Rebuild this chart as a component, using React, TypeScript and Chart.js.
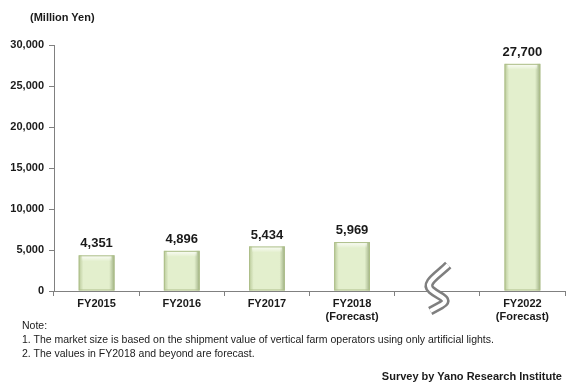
import React, { useEffect, useRef } from "react";
import { Chart, registerables } from "chart.js";

Chart.register(...registerables);

const categories: (string | string[])[] = [
  "FY2015",
  "FY2016",
  "FY2017",
  ["FY2018", "(Forecast)"],
  "",
  ["FY2022", "(Forecast)"],
];
const marketSize: (number | null)[] = [4351, 4896, 5434, 5969, null, 27700];
const yTicks: number[] = [0, 5000, 10000, 15000, 20000, 25000, 30000];
const breakIndex = 4;

const unitLabel = "(Million Yen)";
const noteLines: string[] = [
  "Note:",
  "1. The market size is based on the shipment value of vertical farm operators using only artificial lights.",
  "2. The values in FY2018 and beyond are forecast.",
];
const sourceLabel = "Survey by Yano Research Institute";

const FONT = "'Liberation Sans', Arial, sans-serif";

const fmt = (v: number) => v.toLocaleString("en-US");

const bevelPlugin = {
  id: "bevel",
  afterDatasetsDraw(chart: any) {
    const { ctx } = chart;
    const meta = chart.getDatasetMeta(0);
    ctx.save();
    meta.data.forEach((bar: any, i: number) => {
      if (marketSize[i] == null) return;
      const w = bar.width;
      const l = bar.x - w / 2;
      const r = bar.x + w / 2;
      const t = bar.y;
      const b = bar.base;
      const g = ctx.createLinearGradient(l, 0, r, 0);
      g.addColorStop(0, "rgba(150,170,110,0.55)");
      g.addColorStop(0.13, "rgba(150,170,110,0)");
      g.addColorStop(0.85, "rgba(120,140,90,0)");
      g.addColorStop(1, "rgba(110,130,80,0.6)");
      ctx.fillStyle = g;
      ctx.fillRect(l, t, w, b - t);
      const gt = ctx.createLinearGradient(0, t, 0, t + 6);
      gt.addColorStop(0, "rgba(255,255,255,0.9)");
      gt.addColorStop(1, "rgba(255,255,255,0)");
      ctx.fillStyle = gt;
      ctx.fillRect(l + 3, t, w - 6, 6);
      ctx.strokeStyle = "#aebf8a";
      ctx.lineWidth = 1;
      ctx.strokeRect(l + 0.5, t + 0.5, w - 1, b - t - 1);
    });
    ctx.restore();
  },
};

const barLabelPlugin = {
  id: "barLabels",
  afterDatasetsDraw(chart: any) {
    const { ctx } = chart;
    const meta = chart.getDatasetMeta(0);
    ctx.save();
    ctx.font = `bold 13px ${FONT}`;
    ctx.fillStyle = "#1a1a1a";
    ctx.textAlign = "center";
    ctx.textBaseline = "bottom";
    meta.data.forEach((bar: any, i: number) => {
      const v = marketSize[i];
      if (v == null) return;
      ctx.fillText(fmt(v), bar.x, bar.y - 5);
    });
    ctx.restore();
  },
};

const breakPlugin = {
  id: "breakMark",
  afterDraw(chart: any) {
    const { ctx, scales } = chart;
    const cx = scales.x.getPixelForValue(breakIndex) - 1;
    const cy = chart.chartArea.bottom;
    const path = () => {
      ctx.beginPath();
      ctx.moveTo(cx + 12, cy - 26);
      ctx.bezierCurveTo(cx + 2, cy - 16, cx - 13, cy - 8, cx - 5, cy - 1);
      ctx.bezierCurveTo(cx + 3, cy + 6, cx + 15, cy + 8, cx + 5, cy + 14);
      ctx.lineTo(cx - 6, cy + 20);
    };
    ctx.save();
    ctx.lineCap = "butt";
    ctx.lineJoin = "round";
    path();
    ctx.strokeStyle = "#7f7f7f";
    ctx.lineWidth = 9;
    ctx.stroke();
    path();
    ctx.strokeStyle = "#ffffff";
    ctx.lineWidth = 4;
    ctx.stroke();
    ctx.restore();
  },
};

export default function App() {
  const ref = useRef<HTMLCanvasElement | null>(null);

  useEffect(() => {
    document.body.style.margin = "0";
    const canvas = ref.current!;
    const ctx = canvas.getContext("2d")!;
    const chart = new Chart(ctx, {
      type: "bar",
      data: {
        labels: categories,
        datasets: [
          {
            data: marketSize,
            backgroundColor: "#e3efcd",
            borderWidth: 0,
            barPercentage: 0.42,
            categoryPercentage: 1,
          },
        ],
      },
      options: {
        responsive: false,
        animation: false,
        layout: { padding: { top: 45, right: 11, left: 0, bottom: 0 } },
        plugins: { legend: { display: false }, tooltip: { enabled: false } },
        scales: {
          x: {
            offset: true,
            grid: {
              offset: true,
              drawOnChartArea: false,
              drawTicks: true,
              tickLength: 5,
              color: "#808080",
            },
            border: { color: "#808080", width: 1 },
            ticks: {
              color: "#1a1a1a",
              font: { family: FONT, size: 11, weight: "bold" },
              padding: 1,
              maxRotation: 0,
              autoSkip: false,
            },
            afterFit: (s: any) => {
              s.height = 98;
            },
          },
          y: {
            min: 0,
            max: 30000,
            afterBuildTicks: (s: any) => {
              s.ticks = yTicks.map((v) => ({ value: v }));
            },
            grid: {
              drawOnChartArea: false,
              drawTicks: true,
              tickLength: 5,
              color: "#808080",
            },
            border: { color: "#808080", width: 1 },
            ticks: {
              color: "#1a1a1a",
              font: { family: FONT, size: 11, weight: "bold" },
              padding: 5,
              callback: (v: any) => fmt(Number(v)),
            },
            afterFit: (s: any) => {
              s.width = 54;
            },
          },
        },
      },
      plugins: [bevelPlugin, barLabelPlugin, breakPlugin],
    });
    return () => chart.destroy();
  }, []);

  const textBase: React.CSSProperties = {
    position: "absolute",
    fontFamily: FONT,
    color: "#1a1a1a",
    whiteSpace: "nowrap",
    lineHeight: "14px",
  };

  return (
    <div style={{ position: "relative", width: 576, height: 389, background: "#fff" }}>
      <canvas ref={ref} width={576} height={389} style={{ display: "block" }} />
      <div style={{ ...textBase, left: 30, top: 10, fontSize: 11, fontWeight: "bold" }}>{unitLabel}</div>
      <div style={{ ...textBase, left: 22, top: 318, fontSize: 10.5 }}>
        {noteLines.map((l, i) => (
          <div key={i}>{l}</div>
        ))}
      </div>
      <div style={{ ...textBase, right: 14, top: 369, fontSize: 11, fontWeight: "bold" }}>{sourceLabel}</div>
    </div>
  );
}
